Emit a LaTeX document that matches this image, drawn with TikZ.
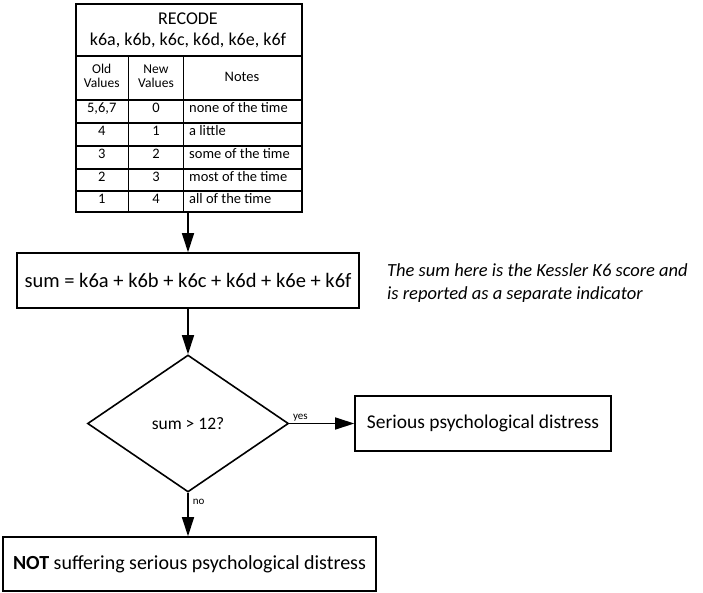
\documentclass[tikz,border=0pt]{standalone}
\usepackage{fontspec}
\setmainfont{Carlito}
\usetikzlibrary{shapes.geometric,arrows.meta}
\tikzset{
  box/.style={draw, line width=1.6pt, inner sep=0pt, font=\fontsize{20}{24}\selectfont},
  flow/.style={line width=1.6pt, -{Triangle[length=19pt,width=12pt]}},
  cell/.style={anchor=base, inner sep=0pt, font=\fontsize{14.5}{16}\selectfont},
  hcell/.style={anchor=base, inner sep=0pt, font=\fontsize{13.5}{15}\selectfont},
  lbl/.style={inner sep=1pt, font=\fontsize{11}{13}\selectfont},
  thin/.style={line width=1.4pt}
}
\begin{document}
\begin{tikzpicture}[x=1pt,y=-1pt]
\useasboundingbox (0,0) rectangle (703,593);
% table
\node[draw, line width=2pt, minimum width=226pt, minimum height=208pt, inner sep=0pt, anchor=north west] (tbl) at (75,3) {};
\draw[line width=2pt] (75,56) -- (301,56);
\foreach \y in {100,123,146,169,191} \draw[thin] (75,\y) -- (301,\y);
\draw[thin] (128.5,56) -- (128.5,211);
\draw[thin] (183.5,56) -- (183.5,211);
\node[anchor=base, inner sep=0pt, font=\fontsize{18}{21}\selectfont] (t1) at (188,25) {RECODE};
\node[anchor=base, inner sep=0pt, font=\fontsize{18}{21}\selectfont] (t2) at (188,46) {k6a, k6b, k6c, k6d, k6e, k6f};
\node[hcell] (h1a) at (101.75,74) {Old};
\node[hcell] (h1b) at (101.75,88) {Values};
\node[hcell] (h2a) at (156,74) {New};
\node[hcell] (h2b) at (156,88) {Values};
\node[cell] (h3) at (242,82) {Notes};
\node[cell] (r1a) at (101.75,112.5) {5,6,7};
\node[cell] (r1b) at (156,112.5) {0};
\node[cell, anchor=base west] (r1c) at (189,112.5) {none of the time};
\node[cell] (r2a) at (101.75,135.5) {4};
\node[cell] (r2b) at (156,135.5) {1};
\node[cell, anchor=base west] (r2c) at (189,135.5) {a little};
\node[cell] (r3a) at (101.75,158.5) {3};
\node[cell] (r3b) at (156,158.5) {2};
\node[cell, anchor=base west] (r3c) at (189,158.5) {some of the time};
\node[cell] (r4a) at (101.75,181.5) {2};
\node[cell] (r4b) at (156,181.5) {3};
\node[cell, anchor=base west] (r4c) at (189,181.5) {most of the time};
\node[cell] (r5a) at (101.75,204) {1};
\node[cell] (r5b) at (156,204) {4};
\node[cell, anchor=base west] (r5c) at (189,204) {all of the time};
% sum box
\node[box, minimum width=342pt, minimum height=55pt, font=\fontsize{20.5}{24}\selectfont] (sum) at (188,280.5) {sum = k6a + k6b + k6c + k6d + k6e + k6f};
\node[anchor=base west, inner sep=0pt, align=left, font=\fontsize{18.5}{23}\selectfont\itshape] (note) at (387,299) {The sum here is the Kessler K6 score and\\is reported as a separate indicator};
% diamond
\node[box, diamond, minimum width=201pt, minimum height=137pt, font=\fontsize{17.5}{20}\selectfont] (dia) at (188,423.5) {sum > 12?};
% outcomes
\node[box, minimum width=256pt, minimum height=55pt, font=\fontsize{19.5}{23}\selectfont] (yes) at (483,423.5) {Serious psychological distress};
\node[box, minimum width=373pt, minimum height=54pt] (no) at (189.5,564) {{\bfseries NOT} suffering serious psychological distress};
% arrows
\draw[flow] (tbl.south -| sum.north) -- (sum.north);
\draw[flow] (sum.south) -- (dia.north);
\draw[flow] (dia.east) -- node[lbl, pos=0.17, above] {yes} (yes.west);
\draw[flow] (dia.south) -- node[lbl, pos=0.2, right, xshift=3pt] {no} (dia.south |- no.north);
\end{tikzpicture}
\end{document}
